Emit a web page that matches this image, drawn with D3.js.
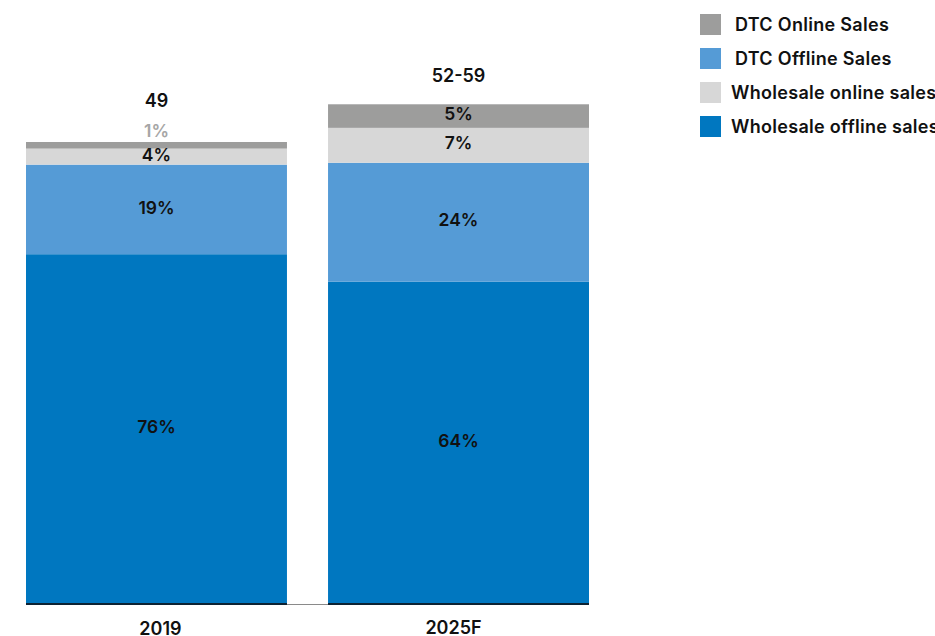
<!DOCTYPE html>
<html><head><meta charset="utf-8">
<script src="https://cdn.jsdelivr.net/npm/d3@7"></script>
<style>body{margin:0;background:#fff;} svg{display:block;font-family:Inter,"Noto Sans",sans-serif;}</style>
</head><body><svg id="c" width="935" height="636"></svg>
<script>
const categories = ["2019", "2025F"];
const totalLabels = ["49", "52-59"];
const seriesNames = ["Wholesale offline sales", "DTC Offline Sales", "Wholesale online sales", "DTC Online Sales"];
const wholesaleOffline = [37.1, 34.2];
const dtcOffline = [9.5, 12.6];
const wholesaleOnline = [1.7, 3.7];
const dtcOnline = [0.7, 2.5];
const wholesaleOfflineLbl = ["76%", "64%"];
const dtcOfflineLbl = ["19%", "24%"];
const wholesaleOnlineLbl = ["4%", "7%"];
const dtcOnlineLbl = ["1%", "5%"];
const legendOrder = ["DTC Online Sales", "DTC Offline Sales", "Wholesale online sales", "Wholesale offline sales"];

const colors = {"Wholesale offline sales":"#0077c0","DTC Offline Sales":"#559bd6","Wholesale online sales":"#d7d7d7","DTC Online Sales":"#9d9d9c"};
const series = [wholesaleOffline, dtcOffline, wholesaleOnline, dtcOnline];
const labels = [wholesaleOfflineLbl, dtcOfflineLbl, wholesaleOnlineLbl, dtcOnlineLbl];

const rows = categories.map((c,i)=>{const r={cat:c}; seriesNames.forEach((s,j)=>r[s]=series[j][i]); return r;});
const stack = d3.stack().keys(seriesNames)(rows);

const svg = d3.select("#c");
const x = d3.scaleBand().domain(categories).range([26,589]).paddingInner(0.136).paddingOuter(0);
const y = d3.scaleLinear().domain([0,49]).range([604,142]);

const g = svg.append("g");
stack.forEach((layer,j)=>{
  g.selectAll(null).data(layer).enter().append("rect")
    .attr("x",d=>x(d.data.cat)).attr("width",x.bandwidth())
    .attr("y",d=>y(d[1])).attr("height",d=>y(d[0])-y(d[1]))
    .attr("fill",colors[seriesNames[j]]);
});

// axis baseline
svg.append("line").attr("x1",26).attr("x2",589).attr("y1",604.5).attr("y2",604.5).attr("stroke","#8a8a8a").attr("stroke-width",1);
categories.forEach(c=>{
  svg.append("line").attr("x1",x(c)).attr("x2",x(c)+x.bandwidth()).attr("y1",604).attr("y2",604).attr("stroke","#0d2233").attr("stroke-width",2);
});

// segment labels
stack.forEach((layer,j)=>{
  layer.forEach((d,i)=>{
    const h = y(d[0])-y(d[1]);
    const small = h < 10;
    const cy = small ? y(d[1]) - 11 : (y(d[0])+y(d[1]))/2 - 2;
    svg.append("text").attr("x",x(d.data.cat)+x.bandwidth()/2).attr("y",cy)
      .attr("dy","0.35em").attr("text-anchor","middle")
      .attr("font-size",17.5).attr("font-weight",600)
      .attr("fill", small ? "#a6a6a6" : "#111")
      .text(labels[j][i]);
  });
});

// totals
const topLayer = stack[stack.length-1];
topLayer.forEach((d,i)=>{
  const h = y(d[0])-y(d[1]);
  const offset = h < 10 ? 41 : 29;
  svg.append("text").attr("x",x(d.data.cat)+x.bandwidth()/2).attr("y",y(d[1])-offset)
    .attr("dy","0.35em").attr("text-anchor","middle")
    .attr("font-size",18).attr("font-weight",600).attr("fill","#111").text(totalLabels[i]);
});

// x labels
const xa = svg.append("g");
categories.forEach((c,i)=>{
  xa.append("text").attr("x",x(c)+x.bandwidth()/2 + (i==0?4:-5)).attr("y",i==0?628.5:627.5).attr("dy","0.35em")
    .attr("text-anchor","middle").attr("font-size",18).attr("font-weight",600).attr("fill","#111").text(c);
});

// legend
const lg = svg.append("g");
legendOrder.forEach((s,i)=>{
  const yy = 14 + i*34;
  lg.append("rect").attr("x",700).attr("y",yy).attr("width",21).attr("height",21).attr("fill",colors[s]);
  lg.append("text").attr("x", s.startsWith("DTC")?735:731).attr("y",yy+11).attr("dy","0.35em")
    .attr("font-size",18).attr("font-weight",600).attr("letter-spacing",0.3).attr("fill","#111").text(s);
});
</script></body></html>
